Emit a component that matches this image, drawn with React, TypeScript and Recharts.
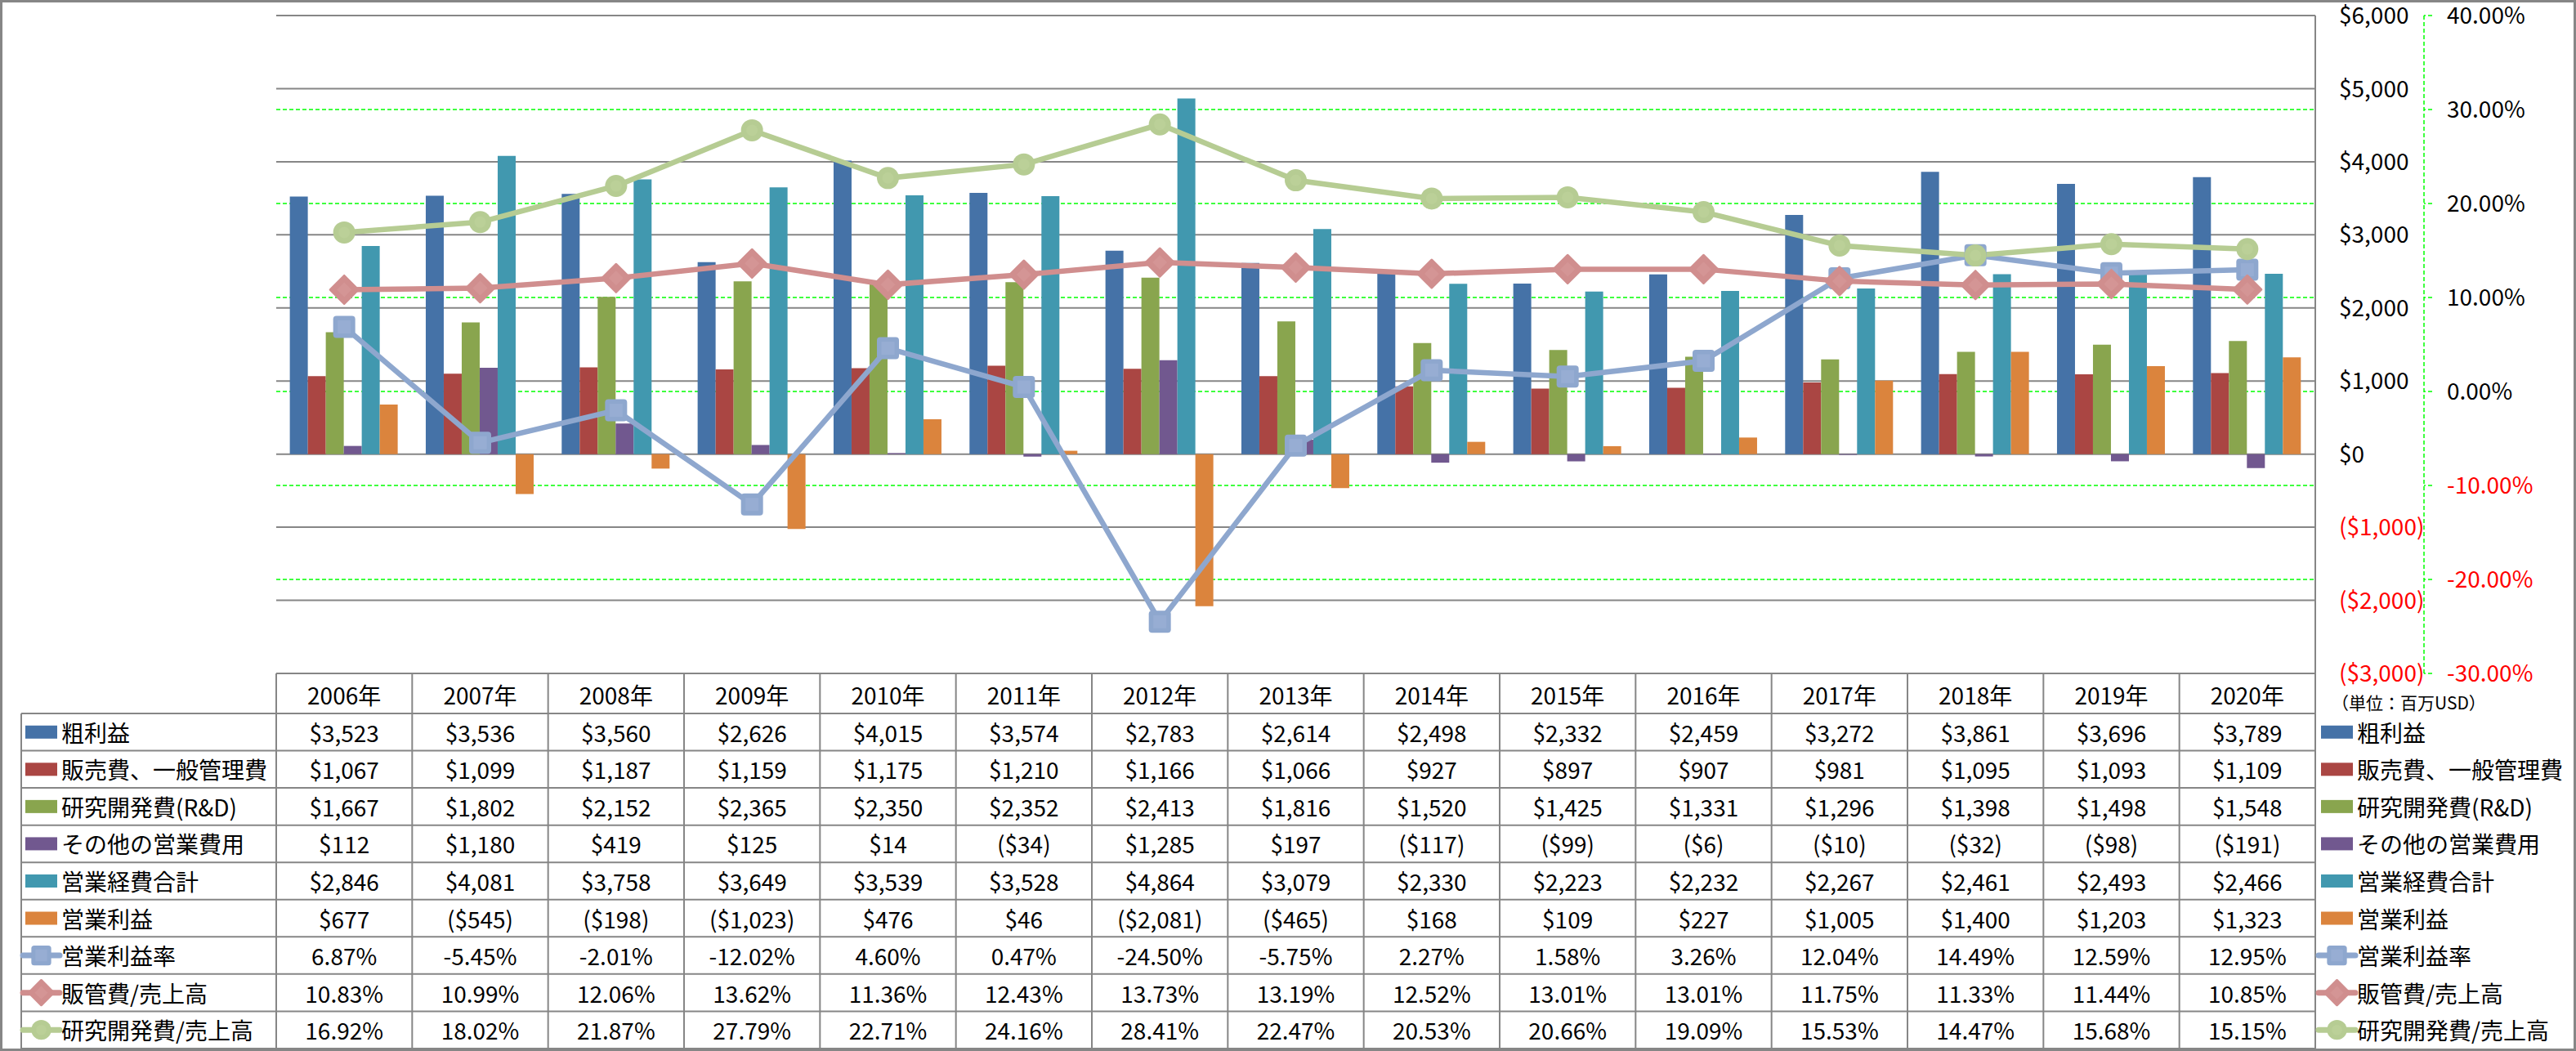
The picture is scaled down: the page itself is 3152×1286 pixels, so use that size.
import React from 'react'
import { ComposedChart, Bar, Line, XAxis, YAxis, CartesianGrid } from 'recharts'

// 単位：百万USD
const years = ['2006年', '2007年', '2008年', '2009年', '2010年', '2011年', '2012年', '2013年', '2014年', '2015年', '2016年', '2017年', '2018年', '2019年', '2020年']
const grossProfit = [3523, 3536, 3560, 2626, 4015, 3574, 2783, 2614, 2498, 2332, 2459, 3272, 3861, 3696, 3789]
const sga = [1067, 1099, 1187, 1159, 1175, 1210, 1166, 1066, 927, 897, 907, 981, 1095, 1093, 1109]
const rnd = [1667, 1802, 2152, 2365, 2350, 2352, 2413, 1816, 1520, 1425, 1331, 1296, 1398, 1498, 1548]
const otherOpex = [112, 1180, 419, 125, 14, -34, 1285, 197, -117, -99, -6, -10, -32, -98, -191]
const totalOpex = [2846, 4081, 3758, 3649, 3539, 3528, 4864, 3079, 2330, 2223, 2232, 2267, 2461, 2493, 2466]
const opIncome = [677, -545, -198, -1023, 476, 46, -2081, -465, 168, 109, 227, 1005, 1400, 1203, 1323]
// %
const opMargin = [6.87, -5.45, -2.01, -12.02, 4.6, 0.47, -24.5, -5.75, 2.27, 1.58, 3.26, 12.04, 14.49, 12.59, 12.95]
const sgaRatio = [10.83, 10.99, 12.06, 13.62, 11.36, 12.43, 13.73, 13.19, 12.52, 13.01, 13.01, 11.75, 11.33, 11.44, 10.85]
const rndRatio = [16.92, 18.02, 21.87, 27.79, 22.71, 24.16, 28.41, 22.47, 20.53, 20.66, 19.09, 15.53, 14.47, 15.68, 15.15]

const usdTicks = [-3000, -2000, -1000, 0, 1000, 2000, 3000, 4000, 5000, 6000]
const pctTicks = [-30, -20, -10, 0, 10, 20, 30, 40]

const FONT = '"Noto Sans CJK JP", "Noto Sans", sans-serif'
const W = 3152
const H = 1286
const PLOT_LEFT = 338
const PLOT_RIGHT = 2833
const PLOT_TOP = 19
const PLOT_BOTTOM = 824
const HEADER_H = 49
const ROW_H = 45.55
const GRID = '#868686'
const COL_W = (PLOT_RIGHT - PLOT_LEFT) / years.length

type Kind = 'bar' | 'square' | 'diamond' | 'circle'

const series: { key: string; name: string; values: number[]; color: string; kind: Kind }[] = [
  { key: 'gp', name: '粗利益', values: grossProfit, color: '#4572A7', kind: 'bar' },
  { key: 'sga', name: '販売費、一般管理費', values: sga, color: '#AA4643', kind: 'bar' },
  { key: 'rnd', name: '研究開発費(R&D)', values: rnd, color: '#89A54E', kind: 'bar' },
  { key: 'other', name: 'その他の営業費用', values: otherOpex, color: '#71588F', kind: 'bar' },
  { key: 'total', name: '営業経費合計', values: totalOpex, color: '#4198AF', kind: 'bar' },
  { key: 'op', name: '営業利益', values: opIncome, color: '#DB843D', kind: 'bar' },
  { key: 'opm', name: '営業利益率', values: opMargin, color: '#8EA7CE', kind: 'square' },
  { key: 'sgar', name: '販管費/売上高', values: sgaRatio, color: '#D08E8E', kind: 'diamond' },
  { key: 'rndr', name: '研究開発費/売上高', values: rndRatio, color: '#B6CC93', kind: 'circle' },
]

const chartData = years.map((year, i) => {
  const row: Record<string, number | string> = { year }
  series.forEach(s => { row[s.key] = s.values[i] })
  return row
})

const fmtUsd = (v: number) => (v < 0 ? `($${Math.abs(v).toLocaleString('en-US')})` : `$${v.toLocaleString('en-US')}`)
const fmtPct = (v: number) => `${v.toFixed(2)}%`

const Marker = ({ kind, cx, cy, color, s = 1 }: { kind: Kind; cx: number; cy: number; color: string; s?: number }) => {
  if (kind === 'square') {
    const h = 13.5 * s
    return (
      <g>
        <rect x={cx - h} y={cy - h} width={2 * h} height={2 * h} rx={4 * s} fill={color} />
        <rect x={cx - 8 * s} y={cy - 8 * s} width={16 * s} height={16 * s} fill="#97ADD3" />
      </g>
    )
  }
  if (kind === 'diamond') {
    const h = 17 * s
    return (
      <g>
        <polygon
          points={`${cx},${cy - h} ${cx + h},${cy} ${cx},${cy + h} ${cx - h},${cy}`}
          fill={color} stroke={color} strokeWidth={3 * s} strokeLinejoin="round"
        />
        <polygon
          points={`${cx},${cy - 9 * s} ${cx + 9 * s},${cy} ${cx},${cy + 9 * s} ${cx - 9 * s},${cy}`}
          fill="#D49595"
        />
      </g>
    )
  }
  return (
    <g>
      <circle cx={cx} cy={cy} r={13.5 * s} fill={color} />
      <circle cx={cx} cy={cy} r={7 * s} fill="#BBD098" />
    </g>
  )
}

const makeDot = (kind: Kind, color: string) => (p: any) => {
  if (p.cx == null || p.cy == null) return <g key={p.key} />
  return <g key={`${kind}-${p.index}`}><Marker kind={kind} cx={p.cx} cy={p.cy} color={color} /></g>
}

const UsdTick = (props: any) => {
  const { x, y, payload } = props
  const v = payload.value as number
  return (
    <text x={x} y={y} dy="0.36em" textAnchor="start" fontSize={28} fontFamily={FONT} fill={v < 0 ? '#FF0000' : '#000000'}>
      {fmtUsd(v)}
    </text>
  )
}

const PctTick = (props: any) => {
  const { x, y, payload } = props
  const v = payload.value as number
  return (
    <text x={x} y={y} dy="0.36em" textAnchor="start" fontSize={28} fontFamily={FONT} fill={v < 0 ? '#FF0000' : '#000000'}>
      {fmtPct(v)}
    </text>
  )
}

const LegendIcon = ({ kind, x, y, color }: { kind: Kind; x: number; y: number; color: string }) => {
  if (kind === 'bar') return <rect x={x} y={y - 8} width={39} height={16} fill={color} />
  return (
    <g>
      <line x1={x - 3} y1={y} x2={x + 42} y2={y} stroke={color} strokeWidth={7} strokeLinecap="round" />
      <Marker kind={kind} cx={x + 19.5} cy={y} color={color} s={0.9} />
    </g>
  )
}

const DataTable = () => {
  const rowTop = (i: number) => PLOT_BOTTOM + HEADER_H + i * ROW_H
  const tableBottom = rowTop(series.length)
  const textProps = { fontFamily: FONT, fontSize: 28, fill: '#000000', dominantBaseline: 'central' as const }
  return (
    <svg width={W} height={H} style={{ position: 'absolute', left: 0, top: 0, pointerEvents: 'none' }}>
      {/* 罫線 */}
      <line x1={PLOT_LEFT} y1={PLOT_BOTTOM} x2={PLOT_RIGHT} y2={PLOT_BOTTOM} stroke={GRID} strokeWidth={2} />
      {series.map((_, i) => (
        <line key={`h${i}`} x1={26} y1={rowTop(i)} x2={PLOT_RIGHT} y2={rowTop(i)} stroke={GRID} strokeWidth={2} />
      ))}
      <line x1={26} y1={tableBottom} x2={PLOT_RIGHT} y2={tableBottom} stroke={GRID} strokeWidth={2} />
      <line x1={26} y1={rowTop(0)} x2={26} y2={tableBottom} stroke={GRID} strokeWidth={2} />
      {years.map((_, j) => (
        <line key={`v${j}`} x1={PLOT_LEFT + j * COL_W} y1={PLOT_BOTTOM} x2={PLOT_LEFT + j * COL_W} y2={tableBottom} stroke={GRID} strokeWidth={2} />
      ))}
      <line x1={PLOT_RIGHT} y1={PLOT_BOTTOM} x2={PLOT_RIGHT} y2={tableBottom} stroke={GRID} strokeWidth={2} />

      {/* 見出し */}
      {years.map((y, j) => (
        <text key={`y${j}`} x={PLOT_LEFT + (j + 0.5) * COL_W} y={PLOT_BOTTOM + HEADER_H / 2 + 1} textAnchor="middle" {...textProps}>{y}</text>
      ))}

      {/* 各行 */}
      {series.map((s, i) => {
        const cy = rowTop(i) + ROW_H / 2
        return (
          <g key={s.key}>
            <LegendIcon kind={s.kind} x={31} y={cy} color={s.color} />
            <text x={75} y={cy} textAnchor="start" {...textProps}>{s.name}</text>
            {s.values.map((v, j) => (
              <text key={j} x={PLOT_LEFT + (j + 0.5) * COL_W} y={cy} textAnchor="middle" {...textProps}>
                {s.kind === 'bar' ? fmtUsd(v) : fmtPct(v)}
              </text>
            ))}
            <LegendIcon kind={s.kind} x={2840} y={cy} color={s.color} />
            <text x={2884} y={cy} textAnchor="start" {...textProps}>{s.name}</text>
          </g>
        )
      })}

      <text x={2853} y={859} textAnchor="start" fontFamily={FONT} fontSize={21} fill="#000000" dominantBaseline="central">（単位：百万USD）</text>
    </svg>
  )
}

const App: React.FC = () => {
  return (
    <div style={{ position: 'absolute', left: 0, top: 0, width: W, height: H, background: '#ffffff', fontFamily: FONT }}>
      <div style={{ position: 'absolute', left: 0, top: 0 }}>
        <ComposedChart
          width={W}
          height={H}
          data={chartData}
          margin={{ top: PLOT_TOP, right: 0, bottom: H - PLOT_BOTTOM, left: PLOT_LEFT }}
          barGap={0}
          barCategoryGap="10%"
        >
          <CartesianGrid yAxisId="ratio" vertical={false} stroke="#00FF00" strokeWidth={1.5} strokeDasharray="5 3" />
          <CartesianGrid yAxisId="amount" vertical={false} stroke={GRID} strokeWidth={2} />
          <XAxis dataKey="year" hide />
          <YAxis
            yAxisId="amount"
            orientation="right"
            width={133}
            domain={[-3000, 6000]}
            ticks={usdTicks}
            allowDataOverflow
            axisLine={{ stroke: GRID, strokeWidth: 2 }}
            tickLine={false}
            tickSize={0}
            tickMargin={29}
            tick={<UsdTick />}
            interval={0}
          />
          <YAxis
            yAxisId="ratio"
            orientation="right"
            width={186}
            domain={[-30, 40]}
            ticks={pctTicks}
            allowDataOverflow
            axisLine={{ stroke: '#00FF00', strokeWidth: 1.5, strokeDasharray: '5 3' }}
            tickLine={{ stroke: '#00FF00', strokeWidth: 1.5, strokeDasharray: '5 3' }}
            tickSize={10}
            tickMargin={18}
            tick={<PctTick />}
            interval={0}
          />
          {series.filter(s => s.kind === 'bar').map(s => (
            <Bar key={s.key} yAxisId="amount" dataKey={s.key} name={s.name} fill={s.color} isAnimationActive={false} />
          ))}
          {series.filter(s => s.kind !== 'bar').map(s => (
            <Line
              key={s.key}
              yAxisId="ratio"
              dataKey={s.key}
              name={s.name}
              type="linear"
              stroke={s.color}
              strokeWidth={6.5}
              dot={makeDot(s.kind, s.color)}
              activeDot={false}
              isAnimationActive={false}
            />
          ))}
        </ComposedChart>
      </div>
      <DataTable />
      <div style={{ position: 'absolute', left: 0, top: 0, width: W, height: H, boxSizing: 'border-box', border: `3px solid ${GRID}`, pointerEvents: 'none' }} />
    </div>
  )
}

export default App
